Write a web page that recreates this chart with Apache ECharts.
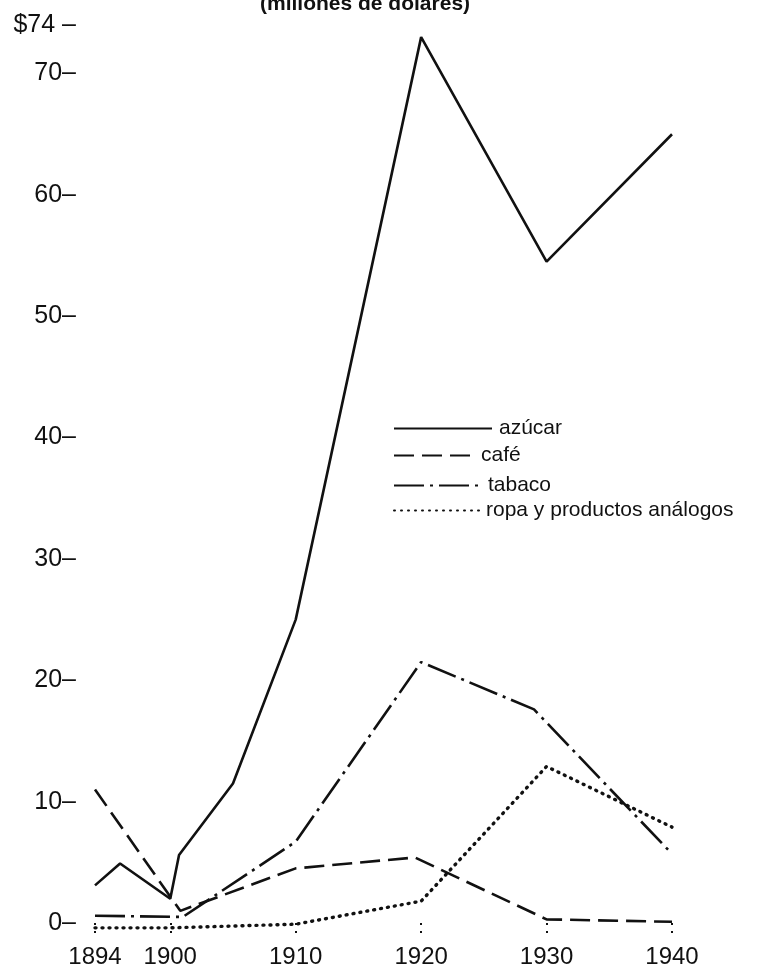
<!DOCTYPE html>
<html>
<head>
<meta charset="utf-8">
<script src="https://cdn.jsdelivr.net/npm/echarts@6/dist/echarts.min.js"></script>
<style>
  html, body { margin: 0; padding: 0; background: #fff; }
  #chart { width: 776px; height: 970px; }
</style>
</head>
<body>
<div id="chart"></div>
<script>
// values, [year, millones de dólares]
const azucar = [[1894, 3.1], [1896, 4.9], [1900, 2.0], [1900.7, 5.6], [1905, 11.5], [1910, 25], [1920, 73], [1930, 54.5], [1940, 65]]
const cafe = [[1894, 11], [1900.8, 1.0], [1910, 4.5], [1919.5, 5.4], [1930, 0.3], [1940, 0.1]]
const tabaco = [[1894, 0.6], [1901, 0.5], [1910, 6.7], [1920, 21.5], [1929, 17.6], [1940, 5.7]]
const ropa = [[1894, -0.4], [1900, -0.4], [1910, -0.1], [1920, 1.8], [1930, 12.9], [1940, 7.9]]

const yearTicks = [1894, 1900, 1910, 1920, 1930, 1940]
const valueTicks = [0, 10, 20, 30, 40, 50, 60, 70, 74]

const ink = '#111'
const font = 'Liberation Sans, Arial, sans-serif'

const chart = echarts.init(document.getElementById('chart'))

function legendRow(name, top, width) {
  return {
    data: [name],
    left: 388,
    top: top,
    itemWidth: width,
    itemHeight: 14,
    itemGap: 0,
    selectedMode: false,
    itemStyle: { opacity: 0 },
    textStyle: { color: ink, fontSize: 21, fontFamily: font, padding: [0, 0, 0, 2] },
  }
}

chart.setOption({
  backgroundColor: '#fff',
  animation: false,
  title: {
    text: '(millones de dólares)',
    left: 255,
    top: -11,
    textStyle: { color: ink, fontSize: 21, fontWeight: 'bold', fontFamily: font },
  },
  legend: [
    legendRow('azúcar', 413, 98),
    legendRow('café', 440, 80),
    legendRow('tabaco', 470, 87),
    legendRow('ropa y productos análogos', 495, 85),
  ],
  grid: {
    left: 95,
    right: 104,
    top: 25,
    bottom: 47,
  },
  xAxis: {
    type: 'value',
    min: 1894,
    max: 1940,
    axisLine: { show: false },
    splitLine: { show: false },
    axisTick: {
      show: true,
      customValues: yearTicks,
      length: 16,
      lineStyle: { color: ink, width: 2, type: [2, 6] },
    },
    axisLabel: {
      customValues: yearTicks,
      margin: 22,
      color: ink,
      fontSize: 24,
      fontFamily: font,
      formatter: v => String(v),
    },
  },
  yAxis: {
    type: 'value',
    min: 0,
    max: 74,
    axisLine: { show: false },
    axisTick: { show: false },
    splitLine: { show: false },
    axisLabel: {
      customValues: valueTicks,
      margin: 19,
      color: ink,
      fontSize: 25,
      fontFamily: font,
      formatter: v => (v === 74 ? '$74 –' : v + '–'),
    },
  },
  series: [
    {
      name: 'azúcar',
      type: 'line',
      data: azucar,
      symbol: 'none',
      clip: false,
      itemStyle: { color: ink },
      lineStyle: { color: ink, width: 2.6 },
    },
    {
      name: 'café',
      type: 'line',
      data: cafe,
      symbol: 'none',
      clip: false,
      itemStyle: { color: ink },
      lineStyle: { color: ink, width: 2.6, type: [20, 8] },
    },
    {
      name: 'tabaco',
      type: 'line',
      data: tabaco,
      symbol: 'none',
      clip: false,
      itemStyle: { color: ink },
      lineStyle: { color: ink, width: 2.6, type: [30, 6, 3, 6] },
    },
    {
      name: 'ropa y productos análogos',
      type: 'line',
      data: ropa,
      symbol: 'none',
      clip: false,
      itemStyle: { color: ink },
      lineStyle: { color: ink, width: 3.4, type: [1, 6], cap: 'round' },
    },
  ],
})
</script>
</body>
</html>
